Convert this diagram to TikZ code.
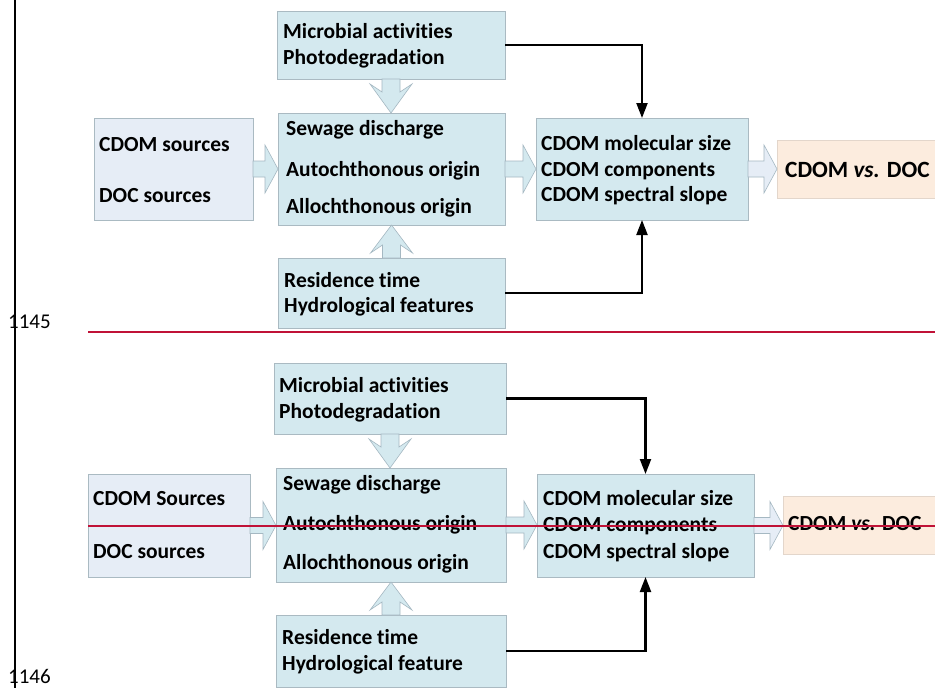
\documentclass[tikz,border=0pt]{standalone}
\usepackage{fontspec}
\setmainfont{Carlito}[Ligatures=NoCommon]
\usetikzlibrary{calc,arrows.meta}
\definecolor{boxblue}{RGB}{212,233,239}
\definecolor{srcblue}{RGB}{230,237,246}
\definecolor{peach}{RGB}{252,236,222}
\definecolor{edgegray}{RGB}{170,186,194}
\definecolor{redline}{RGB}{192,18,55}
\definecolor{arrowedge}{RGB}{165,184,194}
\tikzset{
 box/.style={draw=edgegray, line width=0.8pt, fill=boxblue, anchor=north west, inner sep=0pt, outer sep=0pt},
 lbl/.style={anchor=base west, inner sep=0pt, font=\fontsize{21.5}{25}\selectfont\bfseries},
 biglbl/.style={anchor=base west, inner sep=0pt, font=\fontsize{23.3}{27}\selectfont\bfseries},
 numlbl/.style={anchor=base west, inner sep=0pt, font=\fontsize{21}{25}\selectfont},
 conn/.style={line width=2.2pt, -{Triangle[length=15pt,width=11pt]}},
 fat/.style={draw=arrowedge, line width=0.6pt, line join=miter},
 redrule/.style={draw=redline, line width=2pt},
}
\newcommand{\fatright}[3]{%
 \path[fat, fill=#3] let \p1=(#1.east), \p2=(#2.west) in
  (\x1,{\y1+8pt}) -- ({\x2-13pt},{\y1+8pt}) -- ({\x2-13pt},{\y1+24pt}) -- (\x2,\y1)
  -- ({\x2-13pt},{\y1-24pt}) -- ({\x2-13pt},{\y1-8pt}) -- (\x1,{\y1-8pt}) -- cycle;}
\newcommand{\fatdown}[2]{%
 \path[fat, fill=boxblue] let \p1=(#1.south), \p2=(#2.north) in
  ({\x1-9pt},\y1) -- ({\x1-9pt},{\y1-13pt}) -- ({\x1-21pt},{\y1-5pt}) -- (\x1,\y2)
  -- ({\x1+21pt},{\y1-5pt}) -- ({\x1+9pt},{\y1-13pt}) -- ({\x1+9pt},\y1) -- cycle;}
\newcommand{\fatup}[2]{%
 \path[fat, fill=boxblue] let \p1=(#1.north), \p2=(#2.south) in
  ({\x1-9pt},\y1) -- ({\x1-9pt},{\y1+13pt}) -- ({\x1-21pt},{\y1+5pt}) -- (\x1,\y2)
  -- ({\x1+21pt},{\y1+5pt}) -- ({\x1+9pt},{\y1+13pt}) -- ({\x1+9pt},\y1) -- cycle;}
\begin{document}
\begin{tikzpicture}[x=1pt,y=-1pt]
\useasboundingbox (0,0) rectangle (935,688);
\clip (0,0) rectangle (935,688);
\fill[white] (0,0) rectangle (935,688);

% ---------- top diagram ----------
\node[box, minimum width=228pt, minimum height=68pt] (mic1) at (277,11) {};
\node[box, minimum width=227pt, minimum height=112pt] (sew1) at (278,113) {};
\node[box, minimum width=227pt, minimum height=70pt] (res1) at (278,258) {};
\node[box, fill=srcblue, minimum width=159pt, minimum height=102pt] (src1) at (94,118) {};
\node[box, minimum width=212pt, minimum height=102pt] (cdom1) at (536,118) {};
\node[box, fill=peach, draw=peach!80!gray, minimum width=175pt, minimum height=58pt] (vs1) at (777,140) {};

\fatdown{mic1}{sew1}
\fatup{res1}{sew1}
\fatright{src1}{sew1}{boxblue}
\fatright{sew1}{cdom1}{boxblue}
\fatright{cdom1}{vs1}{srcblue}

\node[lbl] (t1a) at (283,38) {Microbial activities};
\node[lbl] (t1b) at (283,64) {Photodegradation};
\node[lbl] (t1c) at (286,135) {Sewage discharge};
\node[lbl] (t1d) at (286,176) {Autochthonous origin};
\node[lbl] (t1e) at (286,213) {Allochthonous origin};
\node[lbl] (t1f) at (284,287) {Residence time};
\node[lbl] (t1g) at (284,312) {Hydrological features};
\node[lbl] (t1h) at (99,151) {CDOM sources};
\node[lbl] (t1i) at (99,202) {DOC sources};
\node[lbl] (t1j) at (541,150) {CDOM molecular size};
\node[lbl] (t1k) at (541,176) {CDOM components};
\node[lbl] (t1l) at (541,201) {CDOM spectral slope};
\node[biglbl] (t1m) at (785,177) {CDOM \textit{vs.} DOC};

\draw[conn] (mic1.east) -| (cdom1.north);
\draw[conn] (res1.east) -| (cdom1.south);

% ---------- bottom diagram ----------
\node[box, minimum width=232pt, minimum height=71pt] (mic2) at (274,363) {};
\node[box, minimum width=230pt, minimum height=114pt] (sew2) at (276,468) {};
\node[box, minimum width=230pt, minimum height=72pt] (res2) at (276,615) {};
\node[box, fill=srcblue, minimum width=162pt, minimum height=103pt] (src2) at (88,474) {};
\node[box, minimum width=217pt, minimum height=103pt] (cdom2) at (537,474) {};
\node[box, fill=peach, draw=peach!80!gray, minimum width=170pt, minimum height=58pt] (vs2) at (783,496) {};

\fatdown{mic2}{sew2}
\fatup{res2}{sew2}
\fatright{src2}{sew2}{boxblue}
\fatright{sew2}{cdom2}{boxblue}
\fatright{cdom2}{vs2}{srcblue}

\node[lbl] (t2a) at (279,392) {Microbial activities};
\node[lbl] (t2b) at (279,418) {Photodegradation};
\node[lbl] (t2c) at (283,490) {Sewage discharge};
\node[lbl] (t2d) at (283,530) {Autochthonous origin};
\node[lbl] (t2e) at (283,569) {Allochthonous origin};
\node[lbl] (t2f) at (282,644) {Residence time};
\node[lbl] (t2g) at (282,670) {Hydrological feature};
\node[lbl] (t2h) at (93,505) {CDOM Sources};
\node[lbl] (t2i) at (93,558) {DOC sources};
\node[lbl] (t2j) at (543,505) {CDOM molecular size};
\node[lbl] (t2k) at (543,531) {CDOM components};
\node[lbl] (t2l) at (543,558) {CDOM spectral slope};
\node[lbl] (t2m) at (788,530) {CDOM \textit{vs.} DOC};

\draw[conn] (mic2.east) -| (cdom2.north);
\draw[conn] (res2.east) -| (cdom2.south);

% ---------- page marks ----------
\node[numlbl] (n1) at (8,328) {1145};
\node[numlbl] (n2) at (8,683) {1146};
\coordinate (vtop) at (15,0);
\coordinate (vbot) at (15,688);
\draw[line width=2.5pt] (vtop) -- (vbot);
\coordinate (r1a) at (88,331.5);
\coordinate (r1b) at (935,331.5);
\coordinate (r2a) at (88,526);
\coordinate (r2b) at (935,526);
\draw[redrule] (r1a) -- (r1b);
\draw[redrule] (r2a) -- (r2b);
\end{tikzpicture}
\end{document}
